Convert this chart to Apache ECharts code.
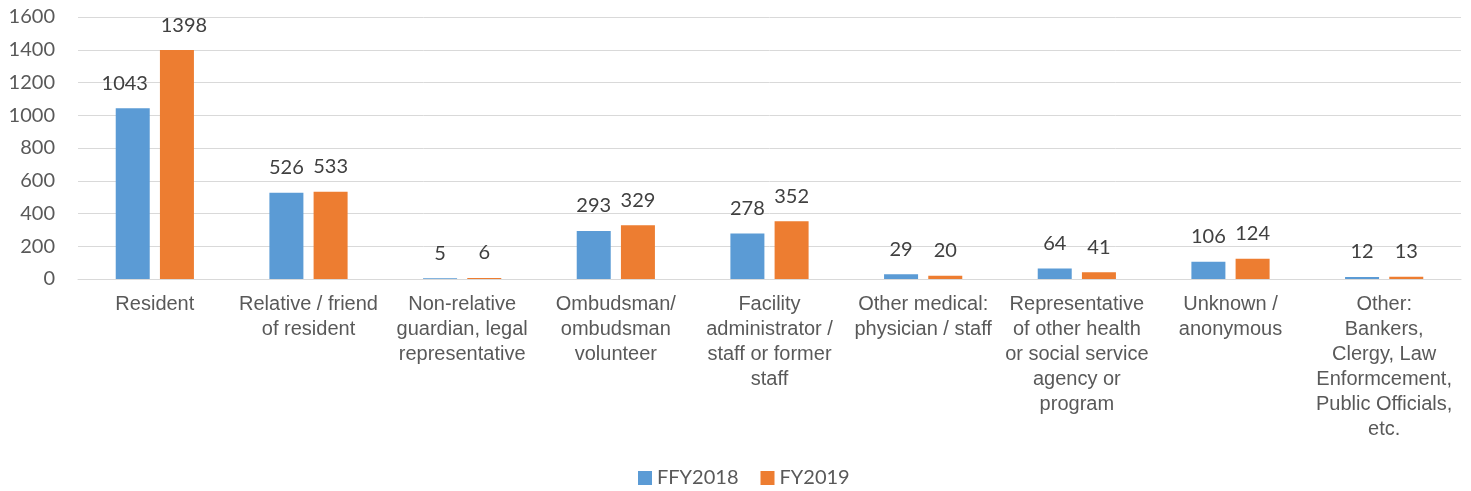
<!DOCTYPE html>
<html>
<head>
<meta charset="utf-8">
<script src="https://cdn.jsdelivr.net/npm/echarts@6/dist/echarts.min.js"></script>
<style>
  html, body { margin: 0; padding: 0; background: #fff; }
  #chart { width: 1471px; height: 491px; }
</style>
</head>
<body>
<div id="chart"></div>
<script>
// categories (line breaks as in the original axis labels)
var categories = [
  "Resident",
  "Relative / friend\nof resident",
  "Non-relative\nguardian, legal\nrepresentative",
  "Ombudsman/\nombudsman\nvolunteer",
  "Facility\nadministrator /\nstaff or former\nstaff",
  "Other medical:\nphysician / staff",
  "Representative\nof other health\nor social service\nagency or\nprogram",
  "Unknown /\nanonymous",
  "Other:\nBankers,\nClergy, Law\nEnformcement,\nPublic Officials,\netc."
]
var ffy2018 = [1043, 526, 5, 293, 278, 29, 64, 106, 12]
var fy2019 = [1398, 533, 6, 329, 352, 20, 41, 124, 13]
var seriesNames = ["FFY2018", "FY2019"]

var chart = echarts.init(document.getElementById("chart"), null, { renderer: "canvas" })

var labelStyle = {
  show: true,
  position: "top",
  distance: 15,
  fontFamily: "Lato",
  fontSize: 20,
  color: "#404040"
}

// first pair of labels was nudged apart in the original
function withNudge (values, dx) {
  return values.map(function (v, i) {
    if (i === 0) return { value: v, label: { offset: [dx, 0] } }
    return v
  })
}

chart.setOption({
  animation: false,
  color: ["#5B9BD5", "#ED7D31"],
  grid: {
    left: 78,
    right: 10,
    top: 17,
    bottom: 212
  },
  legend: {
    data: seriesNames,
    top: 468,
    left: 638,
    padding: 0,
    itemWidth: 14,
    itemHeight: 14,
    itemGap: 22,
    icon: "rect",
    textStyle: {
      fontFamily: "Lato",
      fontSize: 20,
      color: "#595959"
    }
  },
  xAxis: {
    type: "category",
    data: categories,
    axisLine: { lineStyle: { color: "#D9D9D9", width: 1 } },
    axisTick: { show: false },
    axisLabel: {
      interval: 0,
      margin: 13,
      fontFamily: "Liberation Sans",
      fontSize: 20,
      lineHeight: 25,
      color: "#595959",
      align: "center"
    }
  },
  yAxis: {
    type: "value",
    min: 0,
    max: 1600,
    interval: 200,
    axisLine: { show: false },
    axisTick: { show: false },
    splitLine: { lineStyle: { color: "#D9D9D9", width: 1 } },
    axisLabel: {
      margin: 23,
      fontFamily: "Lato",
      fontSize: 20,
      color: "#595959",
      formatter: function (v) { return String(v) }
    }
  },
  series: [
    {
      name: seriesNames[0],
      type: "bar",
      data: withNudge(ffy2018, -8),
      barWidth: 34,
      barGap: "30%",
      label: labelStyle
    },
    {
      name: seriesNames[1],
      type: "bar",
      data: withNudge(fy2019, 7),
      barWidth: 34,
      barGap: "30%",
      label: labelStyle
    }
  ]
})
</script>
</body>
</html>
